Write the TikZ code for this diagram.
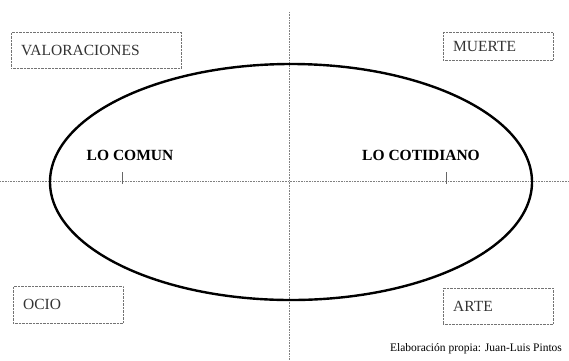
\documentclass[tikz,border=0pt]{standalone}
\usepackage{fontspec}
\setmainfont{Liberation Serif}
\tikzset{
  labelbox/.style={draw=black!55, densely dotted, anchor=north west, inner xsep=10pt, inner ysep=0pt, align=left, text=black!80, font=\fontsize{15.5}{18}\selectfont},
  axis/.style={black!50, densely dotted, line width=0.6pt},
  tick/.style={black!60, line width=0.6pt}
}
\begin{document}
\begin{tikzpicture}[x=1pt,y=-1pt]
\useasboundingbox (0,0) rectangle (569,360);

\draw[axis](0,181) -- (569,181);
\draw[axis](289,12) -- (289,360);

\draw[tick] (122,172) -- (122,184);
\draw[tick] (446,172) -- (446,184);

\draw[line width=2.4pt] (291,182) ellipse [x radius=241, y radius=118];

\node[labelbox,text width=150pt,minimum height=36pt] (valoraciones) at (11,32) {VALORACIONES};
\node[labelbox,text width=90pt,minimum height=28pt] (muerte) at (443,32) {MUERTE};
\node[labelbox,text width=90pt,minimum height=37pt] (ocio) at (13,286) {OCIO};
\node[labelbox,text width=90pt,minimum height=36pt] (arte) at (443,288) {ARTE};

\node[font=\fontsize{15.5}{18}\bfseries] (comun) at (130,155) {LO COMUN};
\node[font=\fontsize{15.5}{18}\bfseries] (cotidiano) at (421,155) {LO COTIDIANO};

\node[font=\fontsize{11.5}{13}\selectfont] (fuente) at (476,349) {Elaboración propia: Juan-Luis Pintos};

\end{tikzpicture}
\end{document}
